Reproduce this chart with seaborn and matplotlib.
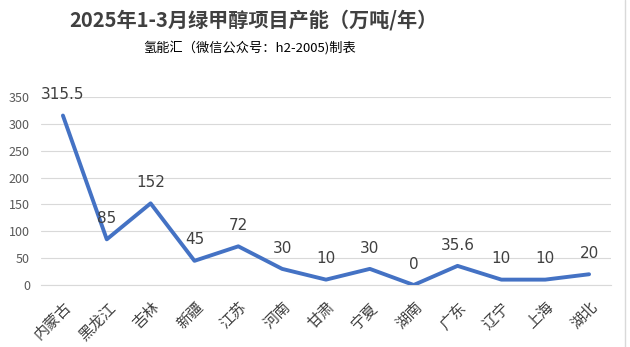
import matplotlib
matplotlib.use("Agg")
import matplotlib.pyplot as plt
import seaborn as sns
import pandas as pd

provinces = ["内蒙古", "黑龙江", "吉林", "新疆", "江苏", "河南", "甘肃", "宁夏", "湖南", "广东", "辽宁", "上海", "湖北"]
capacity = [315.5, 85, 152, 45, 72, 30, 10, 30, 0, 35.6, 10, 10, 20]
label_texts = ["315.5", "85", "152", "45", "72", "30", "10", "30", "0", "35.6", "10", "10", "20"]
yticks = [0, 50, 100, 150, 200, 250, 300, 350]
title = "2025年1-3月绿甲醇项目产能（万吨/年）"
subtitle = "氢能汇（微信公众号：h2-2005)制表"

sns.set_theme(style="white")
plt.rcParams["font.family"] = ["Noto Sans CJK SC", "DejaVu Sans"]

df = pd.DataFrame({"province": provinces, "capacity": capacity, "idx": range(len(provinces))})

fig = plt.figure(figsize=(6.30, 3.47), dpi=100)
ax = fig.add_axes([41 / 630, 1 - 285 / 347, 570 / 630, 188 / 347])

sns.lineplot(data=df, x="idx", y="capacity", ax=ax, color="#4472C4", linewidth=2.8,
             solid_capstyle="round", solid_joinstyle="round")

ax.set_xlim(-0.5, len(provinces) - 0.5)
ax.set_ylim(0, 350)
ax.set_yticks(yticks)
ax.set_yticklabels([str(t) for t in yticks], fontsize=9, color="#595959")
ax.set_xticks(range(len(provinces)))
ax.set_xticklabels(provinces, rotation=45, ha="right", rotation_mode="anchor",
                   fontsize=11, color="#404040")
ax.tick_params(axis="x", length=0, pad=10)
ax.tick_params(axis="y", length=0, pad=8)
ax.set_xlabel("")
ax.set_ylabel("")
ax.grid(axis="y", color="#D9D9D9", linewidth=0.8)
ax.set_axisbelow(True)
for s in ["top", "right", "left"]:
    ax.spines[s].set_visible(False)
ax.spines["bottom"].set_color("#D9D9D9")
ax.spines["bottom"].set_linewidth(0.8)
ax.spines["bottom"].set_zorder(0)

for i, (v, t) in enumerate(zip(capacity, label_texts)):
    ax.annotate(t, (i, v), xytext=(0, 15), textcoords="offset points",
                ha="center", va="center", fontsize=11, color="#404040",
                family=["DejaVu Sans"], annotation_clip=False)

fig.text(253 / 630, 1 - 20 / 347, title, ha="center", va="center", fontsize=14.5,
         fontweight="bold", color="#404040")
fig.text(250 / 630, 1 - 48 / 347, subtitle, ha="center", va="center", fontsize=9.5,
         fontweight="medium", color="#000000")

fig.add_artist(plt.Line2D([625 / 630, 625 / 630], [0, 1], transform=fig.transFigure,
                          color="#D9D9D9", linewidth=1))

fig.savefig("out.png", dpi=100)
